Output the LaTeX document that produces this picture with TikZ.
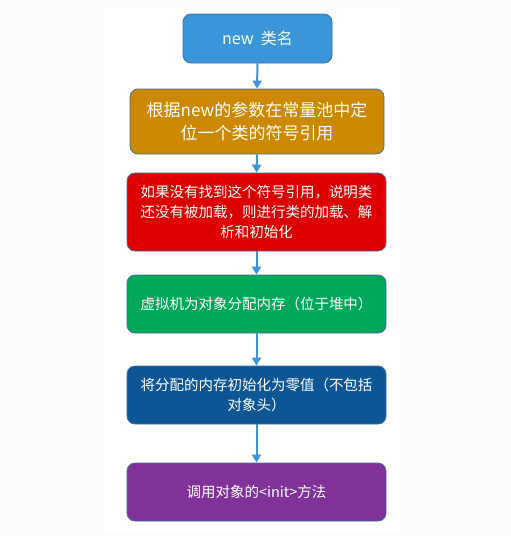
\documentclass[tikz,border=0pt]{standalone}
\usepackage{fontspec}
\setmainfont{Noto Sans CJK SC}
\usetikzlibrary{arrows.meta}
\definecolor{cblue}{HTML}{3A96D9}
\definecolor{corange}{HTML}{CC8800}
\definecolor{cred}{HTML}{DD0000}
\definecolor{cgreen}{HTML}{00A859}
\definecolor{cnavy}{HTML}{0C5696}
\definecolor{cpurple}{HTML}{7F3399}
\definecolor{bord}{HTML}{41719C}
\definecolor{arr}{HTML}{3C95D7}
\definecolor{bgout}{HTML}{FCFCFC}
\begin{document}
\begin{tikzpicture}[x=1pt,y=-1pt,
  box/.style={draw=bord, line width=0.8pt, rounded corners=8pt, text=white, align=center, inner sep=0pt, minimum width=259pt, minimum height=58pt, font=\fontsize{14.5}{20}\selectfont},
  conn/.style={draw=arr, line width=2pt, -{Triangle[length=8pt,width=9pt]}}]
\useasboundingbox (0,0) rectangle (511,536);
\fill[bgout] (0,0) rectangle (511,536);
\fill[white] (104,8) rectangle (400,533);
\node[box, fill=cblue, minimum width=149pt, minimum height=49pt, font=\fontsize{16}{20}\selectfont] (n1) at (257.5,38.5) {new\ \ 类名};
\node[box, fill=corange, minimum width=254pt, minimum height=65pt, font=\fontsize{17}{23}\selectfont] (n2) at (257,121.5) {根据new的参数在常量池中定\\位一个类的符号引用};
\node[box, fill=cred, minimum height=78pt] (n3) at (256.5,212) {如果没有找到这个符号引用，说明类\\还没有被加载，则进行类的加载、解\\析和初始化};
\node[box, fill=cgreen] (n4) at (256.5,304) {虚拟机为对象分配内存（位于堆中）};
\node[box, fill=cnavy] (n5) at (256.5,395) {将分配的内存初始化为零值（不包括\\对象头）};
\node[box, fill=cpurple] (n6) at (256.5,492) {调用对象的<init>方法};
\draw[conn] (n1.south) -- (n2.north);
\draw[conn] (n2.south) -- (n3.north);
\draw[conn] (n3.south) -- (n4.north);
\draw[conn] (n4.south) -- (n5.north);
\draw[conn] (n5.south) -- (n6.north);
\end{tikzpicture}
\end{document}
